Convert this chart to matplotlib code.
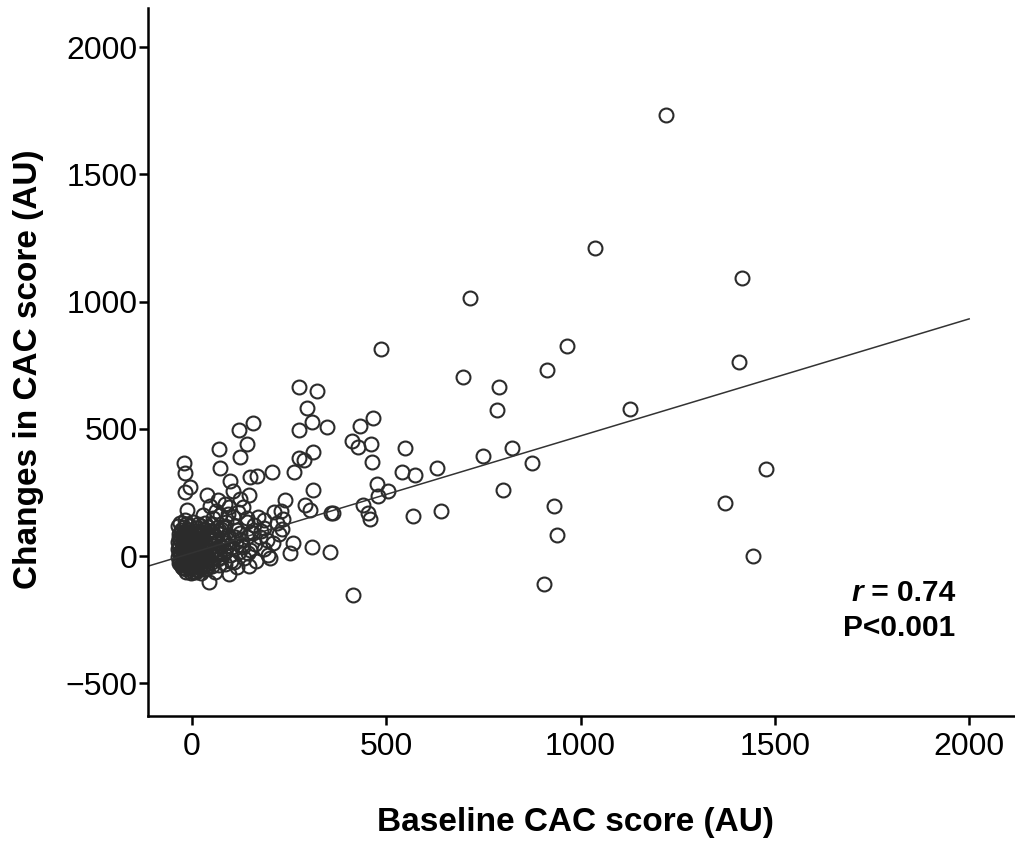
import matplotlib
matplotlib.use("Agg")
import matplotlib.pyplot as plt
from matplotlib.offsetbox import TextArea, HPacker, VPacker, AnnotationBbox

plt.rcParams["font.family"] = ["Liberation Sans", "DejaVu Sans"]

# ── Data (AU) ───────────────────────────────────────────────────────

# scattered points outside the dense cluster
baseline_spread = [
    1220, 1037, 1416, 716, 965, 486, 1408, 914, 697, 789, 1127, 784,
    432, 466, 412, 427, 461, 463, 548, 824, 875, 749, 540, 574, 630,
    800, 932, 940, 906, 476, 479, 505, 441, 453, 458, 363, 569, 641,
    355, 414, 1477, 1372, 1444,
    275, 322, 296, 309, 347, 275, 157, 121,
    141, 124, 69, 72, -20, -18, -4, -18, 98, 149, 167, 206, 263, 275,
    288, 311, 39, 66, 107, 124, 96, 131, 147, 106, 141, 170, 211, 228,
    234, 291, 311, 304, 358, 224, 208, 196, 201, 260, 309, 175, 141,
    116, 80, 80, 108, 72, 69, 43, 13, -31, -13, -18, 28, 72, 141, 124,
    157, 193, 103, 131, 144, 98, 3, 39,
    # halo around the cluster
    55, 88, 112, 160, 185, 62, 94, 118, 152, 178, 47, 84, 126, 163,
    58, 91, 121, 150, 186, 66, 101, 133, 52, 85, 117, 146, 74, 110,
    60, 95, 128, 48, 83, 113, 166, 240, 252, 218, 186, 232,
]
change_spread = [
    1734, 1211, 1093, 1014, 825, 814, 763, 731, 704, 664, 578, 574,
    511, 542, 452, 428, 440, 370, 424, 424, 366, 393, 330, 318, 346,
    259, 197, 83, -110, 283, 236, 255, 200, 169, 145, 169, 157, 177,
    16, -153, 342, 208, 0,
    664, 649, 582, 527, 507, 495, 523, 495,
    440, 389, 421, 344, 364, 326, 270, 250, 295, 311, 315, 332, 330, 385,
    377, 409, 240, 220, 255, 226, 191, 193, 240, 153, 149, 155, 173, 175,
    145, 200, 259, 181, 169, 87, 51, 4, -8, 51, 35, 75, 75,
    102, 114, 63, -24, -4, -35, -104, -55, -24, 181, 141, 161, 161, 134, 90,
    90, 63, 35, 35, 12, 4, -63, -47,
    # halo around the cluster
    148, 132, 118, 122, 110, 176, 166, 171, 95, 98, 198, 205, 62, 48,
    22, 38, 14, 22, 28, -12, -18, -8, -40, -30, -45, -38, 108, 75,
    -62, -70, 42, 2, 8, 55, -20, 220, 12, 128, 142, 108,
]

# the dense cluster of low baseline scores
baseline_cluster = [
    -31, -14, 2, 16, 33, 51,
    -36, -21, -6, 11, 24, 41, 62, 84,
    -29, -17, -9, 6, 19, 31, 49, 71,
    -34, -26, -11, 1, 13, 26, 38, 56, 76, 93,
    -33, -21, -9, 3, 15, 28, 43, 57, 81,
    -36, -24, -16, -4, 9, 21, 34, 51, 67, 89,
    -32, -23, -13, 1, 11, 26, 37, 54, 74,
    -35, -26, -14, -6, 7, 17, 31, 44, 63, 86,
    -33, -21, -12, -1, 9, 23, 36, 49, 71,
    -36, -24, -16, -4, 6, 15, 29, 41, 59,
    -31, -22, -11, -3, 11, 21, 36, 52,
    -29, -19, -10, 1, 13, 24, 39,
    -24, -14, -4, 7, 21, 33,
    -16, -2, 11, 23,
    -27, -8, 9, 27, -30, -12, 4, 19, -25, -6, 14, 31,
    -28, -9, 8, 24, -33, -17, 0, 18, -26, -7, 12, 29,
]
change_cluster = [
    131, 127, 133, 126, 129, 124,
    116, 113, 118, 111, 117, 114, 109, 116,
    101, 97, 104, 99, 96, 103, 98, 101,
    86, 83, 88, 82, 87, 84, 89, 83, 86, 81,
    71, 68, 73, 67, 72, 69, 74, 68, 71,
    56, 53, 58, 52, 57, 54, 59, 53, 56, 51,
    41, 38, 43, 37, 42, 39, 44, 38, 41,
    26, 23, 28, 22, 27, 24, 29, 23, 26, 21,
    11, 8, 13, 7, 12, 9, 14, 8, 11,
    -4, -7, -2, -8, -3, -6, -1, -7, -4,
    -19, -22, -17, -23, -18, -21, -16, -22,
    -34, -37, -32, -38, -33, -36, -31,
    -49, -52, -47, -53, -48, -51,
    -62, -66, -61, -65,
    92, 94, 91, 95, 62, 64, 61, 66, 32, 35, 31, 34,
    3, 1, 4, 2, -27, -29, -26, -28, -42, -44, -41, -45,
]

# least-squares line as printed in the figure
fit_slope = 0.46
fit_intercept = 12
fit_range = [-113, 2000]

r_label = " = 0.74"
p_label = "P<0.001"

x_ticks = [0, 500, 1000, 1500, 2000]
y_ticks = [-500, 0, 500, 1000, 1500, 2000]

# ── Plot ─────────────────────────────────────────────────────────────

fig = plt.figure(figsize=(10.15, 8.41), dpi=100)
ax = fig.add_axes([0.1458, 0.1486, 0.8542, 0.8419])

xs = baseline_spread + baseline_cluster
ys = change_spread + change_cluster
ax.plot(xs, ys, linestyle="none", marker="o", markersize=10,
        markerfacecolor="none", markeredgecolor="#2b2b2b", markeredgewidth=1.5)

line_y = [fit_intercept + fit_slope * x for x in fit_range]
ax.plot(fit_range, line_y, color="#333333", linewidth=1.1)

ax.set_xlim(-113, 2118)
ax.set_ylim(-629, 2154)
ax.set_xticks(x_ticks)
ax.set_yticks(y_ticks)

for side in ("top", "right"):
    ax.spines[side].set_visible(False)
for side in ("left", "bottom"):
    ax.spines[side].set_linewidth(1.8)

ax.tick_params(axis="both", direction="out", length=6.5, width=1.8, labelsize=23)
ax.tick_params(axis="x", pad=5)
ax.tick_params(axis="y", pad=1)

ax.set_xlabel("Baseline CAC score (AU)", fontsize=24, fontweight="bold")
ax.set_ylabel("Changes in CAC score (AU)", fontsize=24, fontweight="bold")
ax.xaxis.set_label_coords(0.4925, -0.128)
ax.yaxis.set_label_coords(-0.12, 0.49)

# r / P annotation, "r" in bold italic
bold = dict(fontweight="bold", size=21.5, color="black")
r_row = HPacker(children=[TextArea("r", textprops=dict(fontstyle="italic", **bold)),
                          TextArea(r_label, textprops=bold)],
                align="baseline", pad=0, sep=0)
stats = VPacker(children=[r_row, TextArea(p_label, textprops=bold)],
                align="right", pad=0, sep=5)
ax.add_artist(AnnotationBbox(stats, (0.931, 0.105), xycoords="axes fraction",
                             box_alignment=(1, 0), frameon=False))

fig.savefig("out.png", dpi=100)
plt.close(fig)
